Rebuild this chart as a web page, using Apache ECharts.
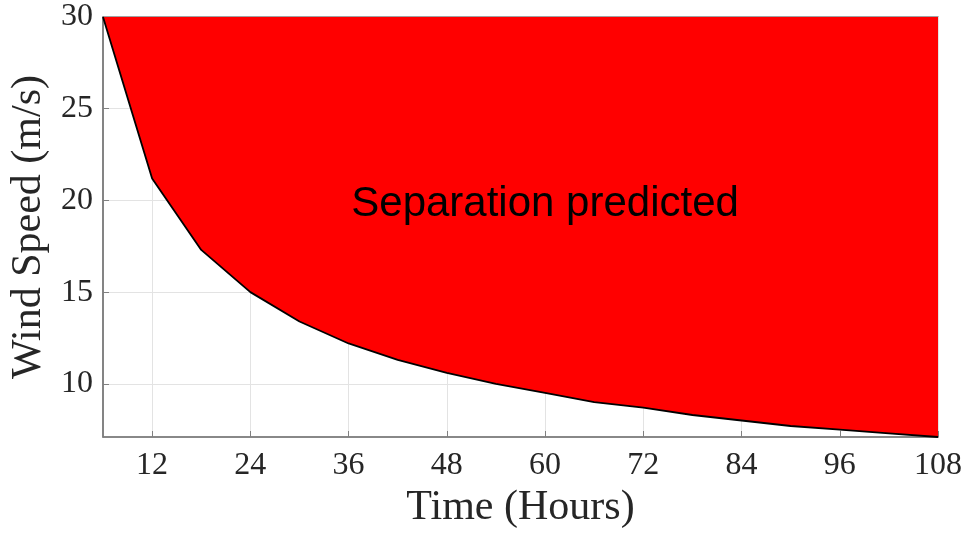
<!DOCTYPE html>
<html>
<head>
<meta charset="utf-8">
<script src="https://cdn.jsdelivr.net/npm/echarts@6/dist/echarts.min.js"></script>
<style>html,body{margin:0;padding:0;background:#fff;}#c{width:967px;height:534px;}</style>
</head>
<body>
<div id="c"></div>
<script>
const hours = [6, 12, 18, 24, 30, 36, 42, 48, 54, 60, 66, 72, 78, 84, 90, 96, 102, 108];
const windSpeed = [30, 21.2, 17.3, 15.0, 13.4, 12.2, 11.3, 10.6, 10.0, 9.5, 9.0, 8.7, 8.3, 8.0, 7.7, 7.5, 7.3, 7.1];
const xTicks = [12, 24, 36, 48, 60, 72, 84, 96, 108];
const yTicks = [10, 15, 20, 25, 30];
const regionLabel = 'Separation predicted';
const labelPos = [60, 19.8];

const chart = echarts.init(document.getElementById('c'), null, {renderer: 'canvas'});
const serif = 'Liberation Serif';
const tickColor = '#262626';
const axisColor = '#808080';
chart.setOption({
  animation: false,
  backgroundColor: '#fff',
  grid: {left: 103, right: 29, top: 17, bottom: 96, show: true, borderColor: '#444', borderWidth: 1.2, backgroundColor: 'transparent'},
  xAxis: {
    type: 'value', min: 6, max: 108,
    name: 'Time (Hours)', nameLocation: 'middle', nameGap: 50,
    nameTextStyle: {fontFamily: serif, fontSize: 42, color: tickColor},
    axisLine: {show: true, lineStyle: {color: axisColor, width: 1.5}},
    axisTick: {show: true, inside: true, length: 6, customValues: xTicks, lineStyle: {color: axisColor}},
    axisLabel: {customValues: xTicks, fontFamily: serif, fontSize: 32, color: tickColor, margin: 13},
    splitLine: {show: true, lineStyle: {color: '#e3e3e3', width: 1}}
  },
  yAxis: {
    type: 'value', min: 7.1, max: 30,
    name: 'Wind Speed (m/s)', nameLocation: 'middle', nameGap: 50, nameRotate: 90,
    nameTextStyle: {fontFamily: serif, fontSize: 42, color: tickColor},
    axisLine: {show: true, lineStyle: {color: axisColor, width: 1.5}},
    axisTick: {show: true, inside: true, length: 6, customValues: yTicks, lineStyle: {color: axisColor}},
    axisLabel: {customValues: yTicks, fontFamily: serif, fontSize: 32, color: tickColor, margin: 10},
    splitLine: {show: true, lineStyle: {color: '#e3e3e3', width: 1}}
  },
  series: [{
    type: 'line',
    data: hours.map((h, i) => [h, windSpeed[i]]),
    symbol: 'none',
    lineStyle: {color: '#000', width: 1.8},
    areaStyle: {color: '#ff0000', opacity: 1, origin: 'end'},
    z: 3,
    markPoint: {
      symbol: 'circle', symbolSize: 0,
      label: {show: true, position: 'inside', formatter: regionLabel, fontFamily: 'Liberation Sans', fontSize: 42, color: '#000'},
      data: [{coord: labelPos}]
    }
  }]
});
</script>
</body>
</html>
